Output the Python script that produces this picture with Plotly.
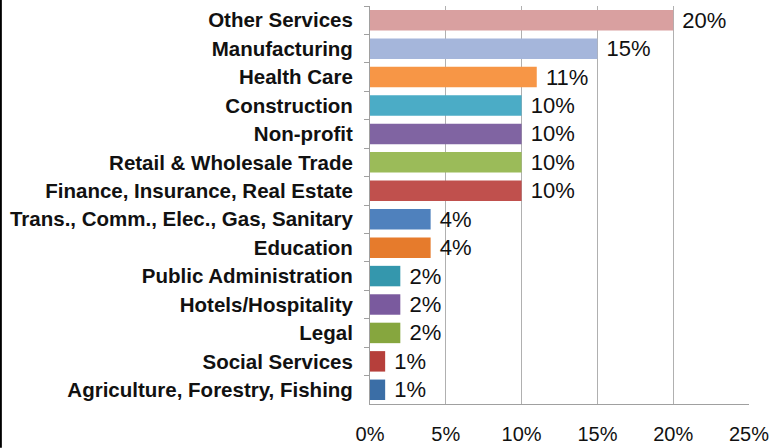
import plotly.graph_objects as go

categories = ["Other Services", "Manufacturing", "Health Care", "Construction", "Non-profit",
              "Retail & Wholesale Trade", "Finance, Insurance, Real Estate",
              "Trans., Comm., Elec., Gas, Sanitary", "Education", "Public Administration",
              "Hotels/Hospitality", "Legal", "Social Services", "Agriculture, Forestry, Fishing"]
values = [20, 15, 11, 10, 10, 10, 10, 4, 4, 2, 2, 2, 1, 1]
labels = ["20%", "15%", "11%", "10%", "10%", "10%", "10%", "4%", "4%", "2%", "2%", "2%", "1%", "1%"]
colors = ["#D9A0A0", "#A5B6DB", "#F79646", "#4BACC6", "#8064A2", "#9BBB59", "#C0504D",
          "#4F81BD", "#E67B2C", "#3497AD", "#7A5A9E", "#86A63E", "#B63F3B", "#3B6EA6"]
x_ticks = [0, 5, 10, 15, 20, 25]

fig = go.Figure(go.Bar(
    x=values, y=categories, orientation="h",
    marker=dict(color=colors, line=dict(width=0)),
    text=labels, texttemplate=" %{text}", textposition="outside", cliponaxis=False,
    constraintext="none",
    textfont=dict(family="Liberation Sans, Arial", size=22, color="#111111"),
))

fig.update_layout(
    width=783, height=448,
    margin=dict(l=370, r=34, t=6, b=44, autoexpand=False),
    paper_bgcolor="white", plot_bgcolor="white",
    bargap=0.28, showlegend=False,
    font=dict(family="Liberation Sans, Arial", color="#111111"),
    xaxis=dict(range=[0, 25], tickvals=x_ticks, ticktext=[f"{v}%" for v in x_ticks],
               showgrid=True, gridcolor="#B0B0B0", gridwidth=1,
               showline=True, linecolor="#A0A0A0", linewidth=1,
               ticks="", tickfont=dict(size=20, color="#111111"),
               ticklabelstandoff=12, zeroline=False, automargin=False),
    yaxis=dict(categoryorder="array", categoryarray=categories, autorange="reversed",
               showline=True, linecolor="#A0A0A0", linewidth=1,
               ticks="outside", ticklen=5, tickcolor="#A0A0A0", tickson="boundaries",
               tickfont=dict(size=20.5, color="#111111", family="Liberation Sans, Arial", weight="bold"),
               ticklabelstandoff=12, showgrid=False, automargin=False),
    shapes=[dict(type="line", xref="paper", yref="paper", x0=-0.974, x1=-0.974, y0=-0.11, y1=1.02,
                 line=dict(color="#000000", width=2))],
)

fig.write_html("out.html", config={"displayModeBar": False},
               post_script="document.body.style.margin='0';document.body.style.overflow='hidden';")
